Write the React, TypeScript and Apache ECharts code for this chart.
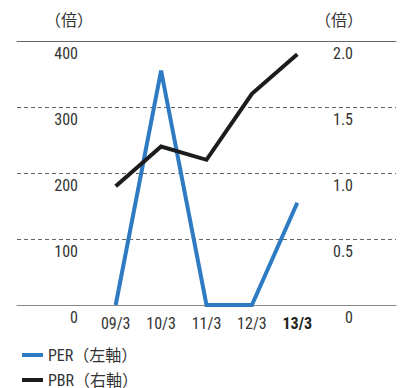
import React, { useEffect, useRef } from "react";
import * as echarts from "echarts";

const categories = ["09/3", "10/3", "11/3", "12/3", "13/3"];
const perValues = [0, 355, 0, 0, 155];
const pbrValues = [0.9, 1.2, 1.1, 1.6, 1.9];
const leftTicks = { min: 0, max: 400, interval: 100 };
const rightTicks = { min: 0, max: 2, interval: 0.5 };
const seriesNames = ["PER（左軸）", "PBR（右軸）"];
const unitLabel = "（倍）";

const FONT = '"Liberation Sans Narrow", "Roboto Condensed", Roboto, "Noto Sans CJK JP", sans-serif';
const TEXT_COLOR = "#333";

export default function App() {
  const ref = useRef<HTMLDivElement>(null);
  useEffect(() => {
    document.body.style.margin = "0";
    if (!ref.current) return;
    const chart = echarts.init(ref.current, null, { renderer: "svg" });
    const top = 41;
    const bottom = 83;
    const legendBase = {
      orient: "vertical",
      left: 17,
      icon: "rect",
      itemWidth: 21,
      itemHeight: 4,
      textStyle: { fontSize: 16, fontFamily: FONT, color: TEXT_COLOR, lineHeight: 16 },
    };
    chart.setOption({
      animation: false,
      textStyle: { fontFamily: FONT },
      grid: [
        { left: 17, right: 9, top, bottom },
        { left: 93, right: 85, top, bottom },
      ],
      xAxis: [
        {
          gridIndex: 0,
          type: "value",
          min: 0,
          max: 1,
          position: "bottom",
          axisLine: { show: true, onZero: false, lineStyle: { color: "#888", width: 1 } },
          axisTick: { show: false },
          axisLabel: { show: false },
          splitLine: { show: false },
        },
        {
          gridIndex: 0,
          type: "value",
          min: 0,
          max: 1,
          position: "top",
          axisLine: { show: true, onZero: false, lineStyle: { color: "#666", width: 1 } },
          axisTick: { show: false },
          axisLabel: { show: false },
          splitLine: { show: false },
        },
        {
          gridIndex: 1,
          type: "category",
          data: categories,
          axisLine: { show: false },
          axisTick: { show: false },
          axisLabel: {
            interval: 0,
            margin: 10,
            fontSize: 16,
            fontFamily: FONT,
            color: TEXT_COLOR,
            formatter: (v: string, i: number) => (i === categories.length - 1 ? `{b|${v}}` : v),
            rich: { b: { fontWeight: "bold", fontSize: 16, fontFamily: FONT, color: "#222" } },
          },
        },
      ],
      yAxis: [
        {
          gridIndex: 0,
          type: "value",
          ...leftTicks,
          axisLine: { show: false },
          axisTick: { show: false },
          axisLabel: { show: false },
          splitLine: { show: true, lineStyle: { color: "#666", type: [4, 3], width: 1 } },
        },
        {
          gridIndex: 1,
          type: "value",
          ...leftTicks,
          position: "left",
          axisLine: { show: false },
          axisTick: { show: false },
          splitLine: { show: false },
          axisLabel: {
            margin: 15,
            fontSize: 16,
            fontFamily: FONT,
            color: TEXT_COLOR,
            align: "right",
            verticalAlign: "top",
            padding: [4, 0, 0, 0],
          },
        },
        {
          gridIndex: 1,
          type: "value",
          ...rightTicks,
          position: "right",
          axisLine: { show: false },
          axisTick: { show: false },
          splitLine: { show: false },
          axisLabel: {
            margin: 33,
            fontSize: 16,
            fontFamily: FONT,
            color: TEXT_COLOR,
            align: "right",
            verticalAlign: "top",
            padding: [4, 0, 0, 0],
            formatter: (v: number) => (v === 0 ? "0" : v.toFixed(1)),
          },
        },
      ],
      legend: [
        { ...legendBase, top: 342, data: [seriesNames[0]] },
        { ...legendBase, top: 367, data: [seriesNames[1]] },
      ],
      graphic: [
        {
          type: "text",
          x: 69,
          y: 20,
          style: { text: unitLabel, fontSize: 16, fontFamily: FONT, fill: TEXT_COLOR, align: "center", verticalAlign: "middle" },
        },
        {
          type: "text",
          x: 339,
          y: 20,
          style: { text: unitLabel, fontSize: 16, fontFamily: FONT, fill: TEXT_COLOR, align: "center", verticalAlign: "middle" },
        },
      ],
      series: [
        {
          name: seriesNames[0],
          type: "line",
          xAxisIndex: 2,
          yAxisIndex: 1,
          data: perValues,
          symbol: "none",
          lineStyle: { color: "#2E7BC4", width: 4, join: "miter" },
          itemStyle: { color: "#2E7BC4" },
          z: 3,
        },
        {
          name: seriesNames[1],
          type: "line",
          xAxisIndex: 2,
          yAxisIndex: 2,
          data: pbrValues,
          symbol: "none",
          lineStyle: { color: "#1C1C1C", width: 4, join: "miter" },
          itemStyle: { color: "#1C1C1C" },
          z: 4,
        },
      ],
    });
    return () => chart.dispose();
  }, []);
  return <div ref={ref} style={{ width: 405, height: 388 }} />;
}
